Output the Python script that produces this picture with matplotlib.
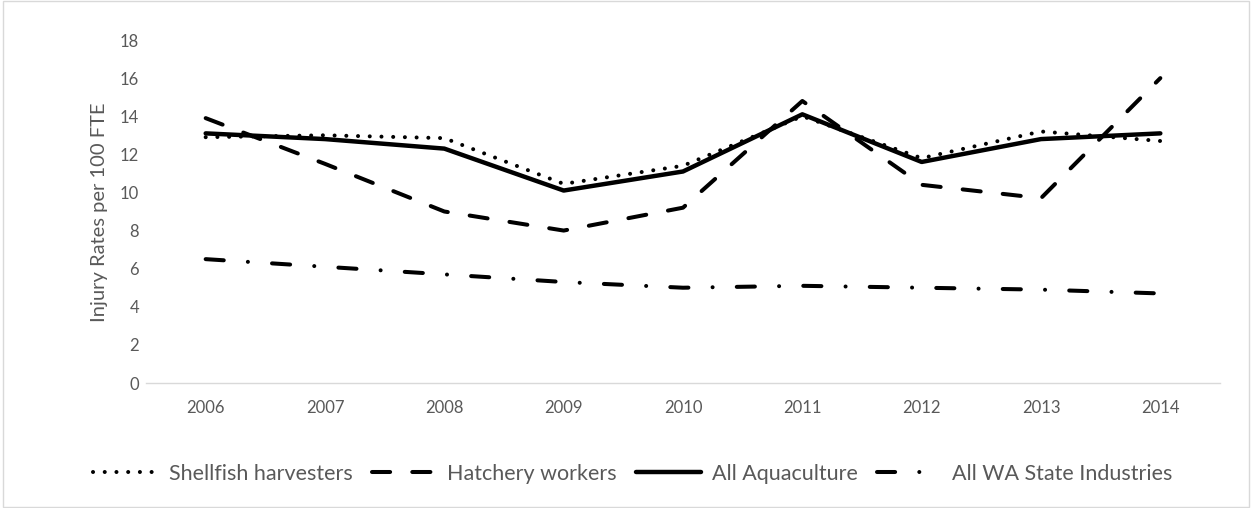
import matplotlib
matplotlib.use("Agg")
import matplotlib.pyplot as plt

years = ["2006", "2007", "2008", "2009", "2010", "2011", "2012", "2013", "2014"]
shellfish = [12.9, 13.0, 12.85, 10.45, 11.4, 14.0, 11.8, 13.2, 12.7]
hatchery = [13.9, 11.5, 9.0, 8.0, 9.2, 14.8, 10.4, 9.7, 16.0]
aquaculture = [13.1, 12.8, 12.3, 10.1, 11.1, 14.1, 11.6, 12.8, 13.1]
wa_state = [6.5, 6.1, 5.7, 5.3, 5.0, 5.1, 5.0, 4.9, 4.7]
yticks = [0, 2, 4, 6, 8, 10, 12, 14, 16, 18]

plt.rcParams['font.family'] = ['Lato', 'DejaVu Sans']
txt = '#595959'

fig = plt.figure(figsize=(12.52, 5.08), dpi=100)
ax = fig.add_axes([146/1252, 1-383/508, (1220-146)/1252, (383-40)/508])
x = list(range(len(years)))
lw = 2.9
ax.plot(x, shellfish, color='black', lw=lw, dashes=(0.01, 2.9), dash_capstyle='round', label='Shellfish harvesters')
ax.plot(x, hatchery, color='black', lw=lw, dashes=(4.5, 5.5), dash_capstyle='round', label='Hatchery workers')
ax.plot(x, aquaculture, color='black', lw=3.2, solid_capstyle='round', label='All Aquaculture')
ax.plot(x, wa_state, color='black', lw=lw, dashes=(4.5, 6, 0.01, 6), dash_capstyle='round', label='All WA State Industries')

ax.set_xlim(-0.5, len(years) - 0.5)
ax.set_ylim(0, 18)
ax.set_xticks(x)
ax.set_xticklabels(years)
ax.set_yticks(yticks)
for s in ['top', 'right', 'left']:
    ax.spines[s].set_visible(False)
ax.spines['bottom'].set_color('#d9d9d9')
ax.spines['bottom'].set_linewidth(1.0)
ax.tick_params(axis='both', length=0, colors=txt, labelsize=12)
ax.tick_params(axis='x', pad=12)
ax.tick_params(axis='y', pad=5)
fig.text(100/1252, 1-212/508, 'Injury Rates per 100 FTE', color=txt, fontsize=14.5,
         rotation=90, ha='center', va='center')

leg = fig.legend(loc='center', bbox_to_anchor=(633/1252, 1-474/508), ncol=4, frameon=False,
                 fontsize=15.5, handlelength=3.0, columnspacing=0.9, handletextpad=0.5)
for t in leg.get_texts():
    t.set_color(txt)

border = plt.Rectangle((0.002, 0.002), 0.996, 0.996, transform=fig.transFigure,
                       fill=False, edgecolor='#d9d9d9', lw=1)
fig.patches.append(border)
fig.savefig('out.png', dpi=100)
